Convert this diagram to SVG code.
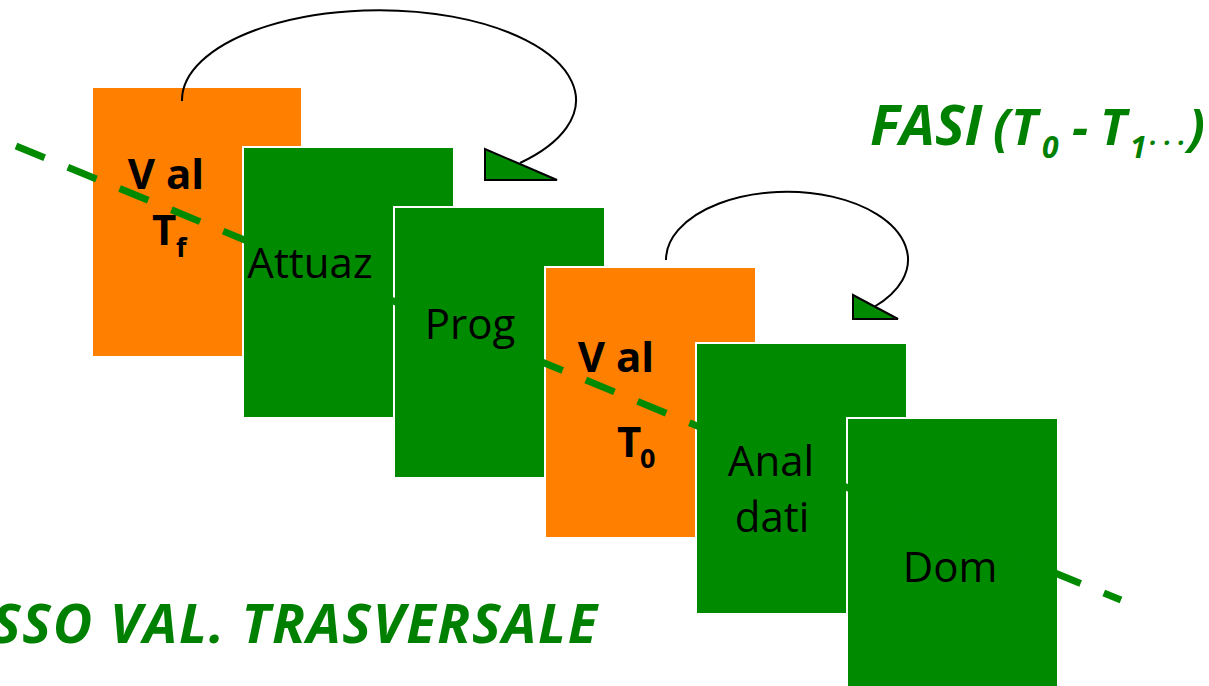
<svg xmlns="http://www.w3.org/2000/svg" width="1209" height="686" viewBox="0 0 1209 686">
  <style>
    .orange { fill: #FF7F00; stroke: #ffffff; stroke-width: 2; }
    .green { fill: #008A00; stroke: #ffffff; stroke-width: 2; }
    .lbl { font-family: "Open Sans", "Liberation Sans", sans-serif; font-size: 42px; fill: #000000; text-anchor: middle; }
    .bold { font-weight: bold; }
    .sub { font-family: "Open Sans", "Liberation Sans", sans-serif; font-size: 27px; font-weight: bold; fill: #000000; }
    .title { font-family: "Open Sans", "Liberation Sans", sans-serif; font-weight: bold; font-style: italic; fill: #008000; }
    .loop { fill: none; stroke: #000000; stroke-width: 2; }
    .head { fill: #008A00; stroke: #000000; stroke-width: 2; stroke-linejoin: miter; }
    .axis { fill: none; stroke: #008A00; stroke-width: 7; stroke-dasharray: 31 25; }
  </style>

  <!-- phase cards, back to front -->
  <g id="val-tf">
    <rect class="orange" x="92" y="87" width="210" height="270"/>
  </g>
  <g id="attuaz">
    <rect class="green" x="243" y="147" width="211" height="271"/>
  </g>
  <g id="prog">
    <rect class="green" x="394" y="207" width="211" height="271"/>
  </g>
  <g id="val-t0">
    <rect class="orange" x="545" y="267" width="211" height="271"/>
  </g>
  <g id="anal-dati">
    <rect class="green" x="696" y="343" width="211" height="271"/>
  </g>
  <g id="dom">
    <rect class="green" x="847" y="418" width="211" height="272"/>
  </g>

  <!-- connectors: transversal axis and feedback loops -->
  <g id="connectors">
    <line class="axis" x1="16" y1="146" x2="1121" y2="600"/>
    <path class="loop" d="M182,101 A197,90 0 1 1 520,163"/>
    <polygon class="head" points="485,149 485,180 557,180"/>
    <path class="loop" d="M666,260 A121,68 0 1 1 874,307"/>
    <polygon class="head" points="853,295 853,319 898,319"/>
  </g>

  <!-- card labels -->
  <g id="labels">
    <text class="lbl bold" x="166" y="189">V al</text>
    <text class="lbl bold" x="152" y="245" style="text-anchor:start">T</text>
    <text class="sub" x="176" y="257">f</text>
    <text class="lbl" x="310" y="278">Attuaz</text>
    <text class="lbl" x="470" y="339">Prog</text>
    <text class="lbl bold" x="616" y="372">V al</text>
    <text class="lbl bold" x="617" y="457" style="text-anchor:start">T</text>
    <text class="sub" x="640" y="468">0</text>
    <text class="lbl" x="771" y="476">Anal</text>
    <text class="lbl" x="772" y="532">dati</text>
    <text class="lbl" x="950" y="582">Dom</text>
  </g>

  <!-- headings -->
  <g id="fasi">
    <text class="title" x="870" y="145" font-size="56">FASI</text>
    <text class="title" y="145" font-size="50">
      <tspan x="993">(</tspan><tspan x="1011">T</tspan><tspan x="1042" y="158" font-size="30">0</tspan><tspan x="1072" y="145">-</tspan><tspan x="1100">T</tspan><tspan x="1130" y="158" font-size="30">1</tspan><tspan x="1150" y="145" font-size="26">. . .</tspan><tspan x="1188" y="145">)</tspan>
    </text>
  </g>
  <g id="asse">
    <text class="title" x="-8" y="643" font-size="54" textLength="605" lengthAdjust="spacing">SSO VAL. TRASVERSALE</text>
  </g>
</svg>
